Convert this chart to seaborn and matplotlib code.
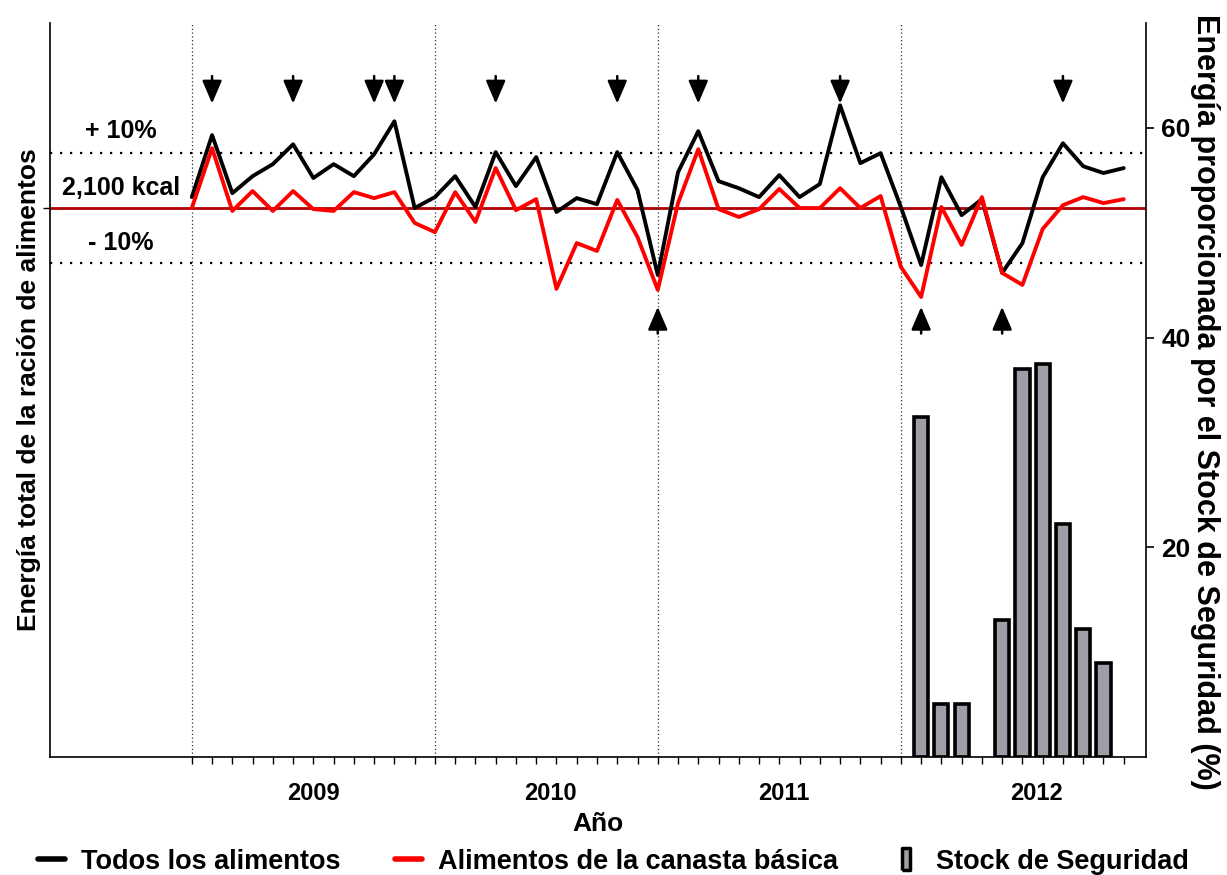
import seaborn as sns
import matplotlib.pyplot as plt
import pandas as pd
from matplotlib.lines import Line2D

# monthly index, 0 = first month shown (mid 2008)
months = list(range(47))
todos = [2142, 2379, 2157, 2222, 2268, 2344, 2215, 2268, 2222, 2306,
         2432, 2100, 2142, 2222, 2104, 2314, 2184, 2295, 2085, 2138,
         2115, 2314, 2169, 1844, 2237, 2394, 2203, 2176, 2142, 2226,
         2142, 2192, 2493, 2272, 2310, 2104, 1882, 2218, 2073, 2134,
         1852, 1966, 2218, 2348, 2260, 2234, 2253]
canasta = [2100, 2329, 2089, 2165, 2089, 2165, 2096, 2089, 2161, 2138,
           2161, 2043, 2008, 2161, 2047, 2253, 2092, 2134, 1791, 1966,
           1936, 2131, 1989, 1787, 2119, 2325, 2096, 2066, 2096, 2173,
           2100, 2100, 2176, 2100, 2146, 1875, 1760, 2104, 1959, 2142,
           1852, 1806, 2020, 2111, 2142, 2119, 2134]
stock_months = [36, 37, 38, 40, 41, 42, 43, 44, 45]
stock_pct = [32.4, 5.1, 5.1, 13.1, 37.0, 37.5, 22.2, 12.2, 9.0]
year_labels = ["2009", "2010", "2011", "2012"]
year_pos = [6, 17.7, 29.2, 41.7]
year_bounds = [0, 12, 23, 35]
down_arrows = [1, 5, 9, 10, 15, 21, 25, 32, 43]
up_arrows = [23, 36, 40]
ref_kcal = 2100

sns.set_theme(style="ticks")
plt.rcParams["font.family"] = ["Liberation Sans", "DejaVu Sans"]
plt.rcParams["font.weight"] = "bold"
plt.rcParams["axes.labelweight"] = "bold"
for k in ("text.color", "axes.labelcolor", "xtick.color", "ytick.color"):
    plt.rcParams[k] = "black"

fig = plt.figure(figsize=(12.27, 8.75), dpi=100)
ax = fig.add_axes([50 / 1227, 1 - 757 / 875, (1146 - 50) / 1227, (757 - 23) / 875])
ax2 = ax.twinx()

df = pd.DataFrame({
    "mes": months * 2,
    "kcal": todos + canasta,
    "serie": ["Todos los alimentos"] * len(months)
    + ["Alimentos de la canasta básica"] * len(months),
})
sns.lineplot(data=df, x="mes", y="kcal", hue="serie",
             palette=["black", "red"], linewidth=2.8, ax=ax, legend=False)

sns.barplot(x=stock_months, y=stock_pct, native_scale=True, width=0.7,
            color="#9e9ea6", saturation=1, edgecolor="black", linewidth=2.6,
            ax=ax2)

# reference lines
ax.axhline(ref_kcal, color="#b00000", lw=2, zorder=1)
for f in (1.1, 0.9):
    ax.axhline(ref_kcal * f, color="black", ls=(0, (1, 3.5)), lw=1.6, zorder=1)
for b in year_bounds:
    ax.axvline(b, color="#333333", ls=(0, (1, 2)), lw=0.9, zorder=1)

ax.text(-3.5, 2394, "+ 10%", ha="center", va="center", fontsize=18, fontweight="bold")
ax.text(-3.5, 2176, "2,100 kcal", ha="center", va="center", fontsize=18, fontweight="bold")
ax.text(-3.5, 1966, "- 10%", ha="center", va="center", fontsize=18, fontweight="bold")

arrow = dict(arrowstyle="-|>,head_length=0.7,head_width=0.3", color="black",
             lw=1.8, shrinkA=0, shrinkB=0, mutation_scale=20)
for m in down_arrows:
    ax.annotate("", xy=(m, 2500), xytext=(m, 2605), arrowprops=arrow)
for m in up_arrows:
    ax.annotate("", xy=(m, 1722), xytext=(m, 1620), arrowprops=arrow)

ax.set_xlim(-7, 47.1)
ax.set_ylim(0, 2808)
ax2.set_ylim(0, 70)

ax.set_xticks(months)
ax.set_xticklabels([])
ax.tick_params(axis="x", which="major", length=5, width=1, direction="out")
for pos, lab in zip(year_pos, year_labels):
    ax.text(pos, -0.034, lab, transform=ax.get_xaxis_transform(),
            ha="center", va="top", fontsize=17, fontweight="bold")
ax.set_yticks([ref_kcal])
ax.set_yticklabels([])
ax.tick_params(axis="y", length=5, width=1)

ax2.set_yticks([20, 40, 60])
ax2.set_yticklabels(["20", "40", "60"], fontsize=19, fontweight="bold")
ax2.tick_params(axis="y", length=6, width=1.2, pad=5)

ax.set_xlabel("Año", fontsize=19, fontweight="bold")
ax.xaxis.set_label_coords(0.5, -0.075)
ax.set_ylabel("Energía total de la ración de alimentos", fontsize=19,
              fontweight="bold", labelpad=-2)
ax2.set_ylabel("Energía proporcionada por el Stock de Seguridad (%)",
               fontsize=22, fontweight="bold", rotation=270, labelpad=21)
ax2.yaxis.label.set_y(0.484)

for a in (ax, ax2):
    a.spines["top"].set_visible(False)
    for s in ("left", "right", "bottom"):
        a.spines[s].set_color("black")
        a.spines[s].set_linewidth(1.2)
ax2.spines["left"].set_visible(False)
ax.spines["right"].set_visible(False)
ax2.spines["bottom"].set_visible(False)
ax2.set_xlabel("")

bar_marker = [(-0.35, -1), (0.35, -1), (0.35, 1), (-0.35, 1), (-0.35, -1)]
handles = [
    Line2D([], [], color="black", lw=4),
    Line2D([], [], color="red", lw=4),
    Line2D([], [], ls="none", marker=bar_marker, markersize=16,
           markerfacecolor="#9e9ea6", markeredgecolor="black", markeredgewidth=2.5),
]
labels = ["Todos los alimentos", "Alimentos de la canasta básica", "Stock de Seguridad"]
fig.legend(handles, labels, loc="center", bbox_to_anchor=(0.5, 0.0149),
           ncol=3, frameon=False, handlelength=1.0,
           handletextpad=0.6, columnspacing=2.0,
           prop={"weight": "bold", "size": 19.5})

fig.savefig("out.png", dpi=100)
